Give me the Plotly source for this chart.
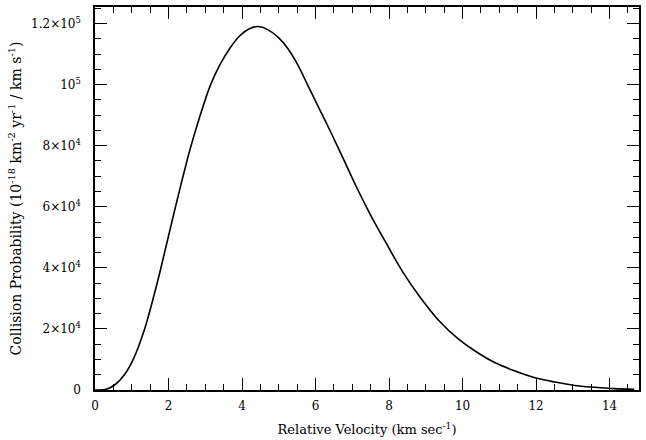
import plotly.graph_objects as go

# Data
velocity = [0.0, 0.3, 0.55, 0.8, 1.05, 1.35, 1.55, 1.77, 2.10, 2.35, 2.59, 2.85, 3.13,
            3.40, 3.67, 3.94, 4.20, 4.44, 4.70, 5.00, 5.24, 5.51, 5.78, 6.09, 6.40, 6.76,
            7.12, 7.48, 7.93, 8.38, 8.82, 9.36, 9.85, 10.35, 10.89, 11.43, 11.97, 12.51,
            13.05, 13.59, 14.13, 14.67]
probability = [0, 200, 1800, 5000, 10300, 20000, 28500, 38800, 55500, 67800, 79000, 89500, 99500,
               106500, 111900, 116000, 118300, 119000, 118000, 115300, 111900, 106600, 100000,
               92400, 84800, 75600, 66300, 57700, 47900, 38500, 30800, 22700, 17100, 12700,
               8900, 6200, 4000, 2600, 1500, 900, 450, 250]

x_ticks = [0, 2, 4, 6, 8, 10, 12, 14]
x_ticklabels = ["0", "2", "4", "6", "8", "10", "12", "14"]
y_ticks = [0, 20000, 40000, 60000, 80000, 100000, 120000]
y_ticklabels = ["0", "2×10<sup>4</sup>", "4×10<sup>4</sup>", "6×10<sup>4</sup>",
                "8×10<sup>4</sup>", "10<sup>5</sup>", "1.2×10<sup>5</sup>"]

x_title = "Relative Velocity (km sec<sup>-1</sup>)"
y_title = ("Collision Probability (10<sup>-18</sup> km<sup>-2</sup> yr<sup>-1</sup>"
           " / km s<sup>-1</sup>)")

FONT = "DejaVu Serif"

fig = go.Figure()
fig.add_trace(go.Scatter(
    x=velocity, y=probability, mode="lines",
    line=dict(color="black", width=1.6, shape="spline", smoothing=0.9),
    showlegend=False, hoverinfo="skip",
))

axis_common = dict(
    showline=True, linecolor="black", linewidth=1.5, mirror="allticks",
    ticks="inside", ticklen=12, tickwidth=1.3, tickcolor="black",
    showgrid=False, zeroline=False,
    tickfont=dict(family=FONT, size=12, color="black"),
)

fig.update_xaxes(
    range=[0, 14.8], tickmode="array", tickvals=x_ticks, ticktext=x_ticklabels,
    minor=dict(ticks="inside", dtick=0.5, ticklen=6, tickwidth=1, tickcolor="black"),
    ticklabelstandoff=4,
    title=dict(text=x_title, font=dict(family=FONT, size=13, color="black"), standoff=13),
    **axis_common,
)
fig.update_yaxes(
    range=[0, 125400], tickmode="array", tickvals=y_ticks, ticktext=y_ticklabels,
    minor=dict(ticks="inside", dtick=5000, ticklen=6, tickwidth=1, tickcolor="black"),
    ticklabelstandoff=10,
    title=dict(text=y_title, font=dict(family=FONT, size=14, color="black"), standoff=6),
    **axis_common,
)

fig.update_layout(
    width=646, height=440,
    margin=dict(l=95, r=5, t=6, b=49),
    paper_bgcolor="white", plot_bgcolor="white",
)

fig.write_html("out.html")
